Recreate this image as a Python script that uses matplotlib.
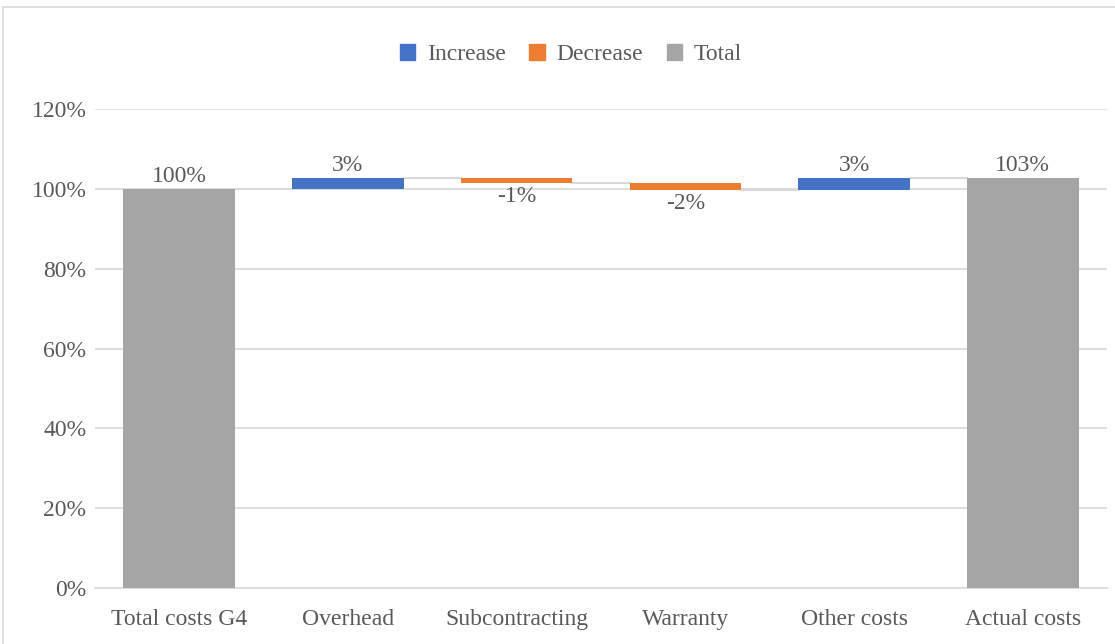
import matplotlib.pyplot as plt
from matplotlib.patches import Patch, Rectangle

categories = ["Total costs G4", "Overhead", "Subcontracting", "Warranty", "Other costs", "Actual costs"]
changes = [100.0, 2.7, -1.2, -1.8, 3.1, None]   # None -> running total
labels = ["100%", "3%", "-1%", "-2%", "3%", "103%"]

c_inc = "#4472c4"
c_dec = "#ed7d31"
c_tot = "#a5a5a5"
txt = "#595959"
fs = 17

plt.rcParams['font.family'] = ['Liberation Serif', 'DejaVu Serif']

fig = plt.figure(figsize=(11.15, 6.44), dpi=100)
ax = fig.add_axes([0.085, 0.087, 0.908, 0.743])

# work out bar bottoms/tops
bottoms, heights, colors = [], [], []
running = 0.0
for i, ch in enumerate(changes):
    if ch is None:
        bottoms.append(0.0); heights.append(running); colors.append(c_tot)
    elif i == 0:
        running = ch
        bottoms.append(0.0); heights.append(ch); colors.append(c_tot)
    else:
        bottoms.append(running); heights.append(ch)
        colors.append(c_inc if ch >= 0 else c_dec)
        running += ch

x = list(range(len(categories)))
w = 0.66
ax.bar(x, heights, bottom=bottoms, width=w, color=colors, zorder=3)

# connector lines between bars
for i in range(len(x) - 1):
    end = bottoms[i] + heights[i]
    ax.plot([x[i] + w / 2, x[i + 1] - w / 2], [end, end], color="#d9d9d9", lw=1.5, zorder=2)

# value labels
for i, lab in enumerate(labels):
    top = bottoms[i] + heights[i]
    if heights[i] >= 0:
        ax.text(x[i], top + 0.5, lab, ha="center", va="bottom", fontsize=fs, color=txt)
    else:
        ax.text(x[i], top - 0.7, lab, ha="center", va="top", fontsize=fs, color=txt)

ax.set_ylim(0, 120)
ax.set_yticks(range(0, 121, 20))
ax.set_yticklabels([f"{v}%" for v in range(0, 121, 20)])
ax.set_xlim(-0.5, len(x) - 0.5)
ax.set_xticks(x)
ax.set_xticklabels(categories)
ax.tick_params(axis="x", length=0, labelsize=fs, labelcolor=txt, pad=15)
ax.tick_params(axis="y", length=0, labelsize=fs, labelcolor=txt, pad=6)
ax.grid(axis="y", color="#d9d9d9", lw=1.2, zorder=0)
for s in ["top", "left", "right"]:
    ax.spines[s].set_visible(False)
ax.spines["bottom"].set_color("#d9d9d9")
ax.spines["bottom"].set_linewidth(1.2)

handles = [Patch(color=c_inc, label="Increase"),
           Patch(color=c_dec, label="Decrease"),
           Patch(color=c_tot, label="Total")]
fig.legend(handles=handles, loc="center", bbox_to_anchor=(0.512, 0.915), ncol=3, frameon=False,
           fontsize=fs, labelcolor=txt, handlelength=0.65, handleheight=0.65, handletextpad=0.5,
           columnspacing=1.0)

# outer chart border
fig.patches.append(Rectangle((0.003, -0.01), 1.0, 1.0 - 0.001, transform=fig.transFigure,
                             fill=False, edgecolor="#d9d9d9", lw=1.2))

fig.savefig("out.png", dpi=100)
